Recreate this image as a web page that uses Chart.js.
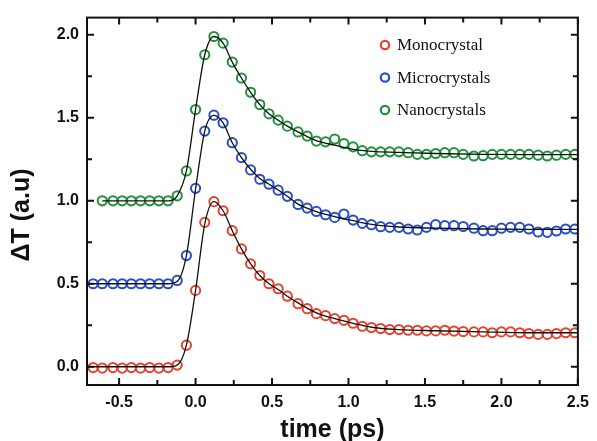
<!DOCTYPE html>
<html>
<head>
<meta charset="utf-8">
<title>ΔT vs time</title>
<script src="https://cdn.jsdelivr.net/npm/chart.js@4.4.1/dist/chart.umd.min.js"></script>
<style>
  html, body { margin: 0; padding: 0; background: #fff; }
  #chart { display: block; }
</style>
</head>
<body>
<canvas id="chart" width="597" height="441"></canvas>
<script>
// delay times of the measured points (ps)
const times = [
    -0.67, -0.61, -0.54, -0.48, -0.42, -0.36, -0.30, -0.24, -0.18, -0.12, -0.06,
    0.00, 0.06, 0.12, 0.18, 0.24, 0.30, 0.36, 0.42, 0.48, 0.54, 0.60,
    0.67, 0.73, 0.79, 0.85, 0.91, 0.97, 1.03, 1.09, 1.15, 1.21, 1.27,
    1.33, 1.39, 1.45, 1.51, 1.57, 1.63, 1.69, 1.75, 1.82, 1.88, 1.94,
    2.00, 2.06, 2.12, 2.18, 2.24, 2.30, 2.36, 2.42, 2.48
];

const monoValues = [
    -0.005, -0.008, -0.005, -0.008, -0.005, -0.008, -0.005, -0.008, -0.005, 0.01, 0.13,
    0.46, 0.87, 0.995, 0.94, 0.82, 0.71, 0.62, 0.55, 0.50, 0.47, 0.425,
    0.38, 0.35, 0.32, 0.308, 0.29, 0.28, 0.262, 0.244, 0.236, 0.23, 0.224,
    0.224, 0.22, 0.22, 0.216, 0.216, 0.22, 0.215, 0.212, 0.21, 0.21, 0.205,
    0.21, 0.21, 0.205, 0.20, 0.195, 0.195, 0.20, 0.205, 0.205
];

const microValues = [
    0.50, 0.50, 0.50, 0.50, 0.50, 0.50, 0.50, 0.50, 0.50, 0.52, 0.67,
    1.075, 1.42, 1.516, 1.47, 1.35, 1.26, 1.186, 1.13, 1.10, 1.064, 1.027,
    0.978, 0.956, 0.936, 0.916, 0.90, 0.92, 0.884, 0.864, 0.856, 0.844, 0.84,
    0.84, 0.83, 0.824, 0.84, 0.856, 0.85, 0.85, 0.845, 0.835, 0.82, 0.82,
    0.835, 0.84, 0.84, 0.83, 0.812, 0.81, 0.818, 0.83, 0.83
];

const nanoValues = [
    null, 1.00, 1.00, 1.00, 1.00, 1.00, 1.00, 1.00, 1.00, 1.03, 1.18,
    1.55, 1.88, 1.99, 1.95, 1.836, 1.74, 1.654, 1.58, 1.524, 1.486, 1.45,
    1.415, 1.39, 1.36, 1.355, 1.372, 1.345, 1.325, 1.302, 1.295, 1.295, 1.295,
    1.295, 1.29, 1.28, 1.28, 1.285, 1.29, 1.29, 1.28, 1.27, 1.272, 1.28,
    1.28, 1.28, 1.28, 1.28, 1.275, 1.27, 1.275, 1.28, 1.28
];

// fitted curves (black lines)
const fitTimes = [
    -0.71, -0.61, -0.18, -0.12, -0.06, 0.00, 0.06, 0.12, 0.18, 0.24, 0.30, 0.36, 0.42,
    0.48, 0.54, 0.60, 0.67, 0.79, 0.91, 1.03, 1.15, 1.33, 1.57, 1.88, 2.18, 2.50
];
const monoFit = [
    0.0, 0.0, 0.0, 0.01, 0.13, 0.46, 0.86, 0.995, 0.94, 0.82, 0.71, 0.62, 0.55,
    0.50, 0.465, 0.425, 0.385, 0.325, 0.29, 0.262, 0.238, 0.224, 0.217, 0.21, 0.205, 0.205
];
const microFit = [
    0.5, 0.5, 0.5, 0.515, 0.67, 1.07, 1.42, 1.515, 1.47, 1.35, 1.26, 1.19, 1.135,
    1.10, 1.065, 1.027, 0.98, 0.935, 0.905, 0.88, 0.858, 0.842, 0.835, 0.83, 0.828, 0.828
];
const nanoFit = [
    null, 1.0, 1.0, 1.03, 1.18, 1.55, 1.88, 1.99, 1.95, 1.836, 1.74, 1.654, 1.58,
    1.524, 1.486, 1.45, 1.415, 1.362, 1.335, 1.31, 1.298, 1.292, 1.285, 1.28, 1.278, 1.278
];

const seriesNames = ['Monocrystal', 'Microcrystals', 'Nanocrystals'];
const seriesColors = ['#e4432f', '#2a4ec6', '#22903c'];

const xTickValues = [-0.5, 0.0, 0.5, 1.0, 1.5, 2.0, 2.5];
const yTickValues = [0.0, 0.5, 1.0, 1.5, 2.0];
const xTitle = 'time (ps)';
const yTitle = 'ΔT (a.u)';

const sansFont = "'Liberation Sans', Arial, sans-serif";
const serifFont = "'Liberation Serif', 'Times New Roman', serif";

function toPoints(xs, ys) {
    return xs.map((x, i) => ({ x: x, y: ys[i] })).filter(p => p.y !== null);
}

/**
 * frame with inward ticks on all four sides
 */
const frameTicks = {
    id: 'frameTicks',
    afterDraw(chart) {
        const { ctx, chartArea: a, scales: { x, y } } = chart;
        ctx.save();
        ctx.strokeStyle = '#111';
        ctx.lineWidth = 2;
        ctx.strokeRect(a.left, a.top, a.right - a.left, a.bottom - a.top);

        ctx.beginPath();
        xTickValues.forEach(v => {
            [v, v + 0.25].forEach((t, i) => {
                if (t < x.min || t > x.max) return;
                const px = x.getPixelForValue(t);
                const len = i === 0 ? 7 : 5;
                ctx.moveTo(px, a.bottom);
                ctx.lineTo(px, a.bottom - len);
                ctx.moveTo(px, a.top);
                ctx.lineTo(px, a.top + len);
            });
        });
        yTickValues.forEach(v => {
            [v, v + 0.25].forEach((t, i) => {
                if (t < y.min || t > y.max) return;
                const py = y.getPixelForValue(t);
                const len = i === 0 ? 7 : 5;
                ctx.moveTo(a.left, py);
                ctx.lineTo(a.left + len, py);
                ctx.moveTo(a.right, py);
                ctx.lineTo(a.right - len, py);
            });
        });
        ctx.stroke();

        // y axis title
        ctx.fillStyle = '#111';
        ctx.font = 'bold 25px ' + sansFont;
        ctx.textAlign = 'center';
        ctx.textBaseline = 'middle';
        ctx.translate(22, 215);
        ctx.rotate(-Math.PI / 2);
        ctx.fillText(yTitle, 0, 0);
        ctx.restore();
    }
};

/**
 * legend inside the plot area
 */
const insideLegend = {
    id: 'insideLegend',
    afterDraw(chart) {
        const ctx = chart.ctx;
        const marks = chart.data.datasets.filter(d => d.label);
        ctx.save();
        ctx.font = '17px ' + serifFont;
        ctx.textBaseline = 'middle';
        ctx.textAlign = 'left';
        marks.forEach((d, i) => {
            const cy = 45 + i * 32.5;
            ctx.beginPath();
            ctx.arc(385, cy, 4.2, 0, Math.PI * 2);
            ctx.lineWidth = 2.2;
            ctx.strokeStyle = d.borderColor;
            ctx.stroke();
            ctx.fillStyle = '#111';
            ctx.fillText(d.label, 397, cy + 1);
        });
        ctx.restore();
    }
};

const markerSets = [monoValues, microValues, nanoValues].map((vals, i) => ({
    label: seriesNames[i],
    data: toPoints(times, vals),
    borderColor: seriesColors[i],
    backgroundColor: 'rgba(0,0,0,0)',
    pointRadius: 4.6,
    pointBorderWidth: 2,
    pointStyle: 'circle',
    showLine: false,
    order: 1
}));

const fitSets = [monoFit, microFit, nanoFit].map(vals => ({
    label: '',
    data: toPoints(fitTimes, vals),
    borderColor: '#111',
    borderWidth: 1.3,
    pointRadius: 0,
    showLine: true,
    cubicInterpolationMode: 'monotone',
    order: 0
}));

const tickFont = { family: sansFont, size: 16, weight: 'bold' };

new Chart(document.getElementById('chart'), {
    type: 'scatter',
    data: { datasets: markerSets.concat(fitSets) },
    options: {
        responsive: false,
        animation: false,
        layout: { padding: { top: 16, right: 15, left: 0, bottom: 0 } },
        plugins: {
            legend: { display: false },
            tooltip: { enabled: false }
        },
        scales: {
            x: {
                type: 'linear',
                min: -0.71,
                max: 2.5,
                afterFit: s => { s.height = 56; },
                afterBuildTicks: s => { s.ticks = xTickValues.map(v => ({ value: v })); },
                grid: { display: false, drawTicks: false },
                border: { display: false },
                ticks: {
                    padding: 8,
                    color: '#111',
                    font: tickFont,
                    maxRotation: 0,
                    autoSkip: false,
                    callback: v => Number(v).toFixed(1)
                },
                title: {
                    display: true,
                    text: xTitle,
                    color: '#111',
                    padding: { top: 0, bottom: -2 },
                    font: { family: sansFont, size: 25, weight: 'bold', lineHeight: 1 }
                }
            },
            y: {
                type: 'linear',
                min: -0.11,
                max: 2.104,
                afterFit: s => { s.width = 87; },
                afterBuildTicks: s => { s.ticks = yTickValues.map(v => ({ value: v })); },
                grid: { display: false, drawTicks: false },
                border: { display: false },
                ticks: {
                    padding: 8,
                    color: '#111',
                    font: tickFont,
                    autoSkip: false,
                    callback: v => Number(v).toFixed(1)
                }
            }
        }
    },
    plugins: [frameTicks, insideLegend]
});
</script>
</body>
</html>
